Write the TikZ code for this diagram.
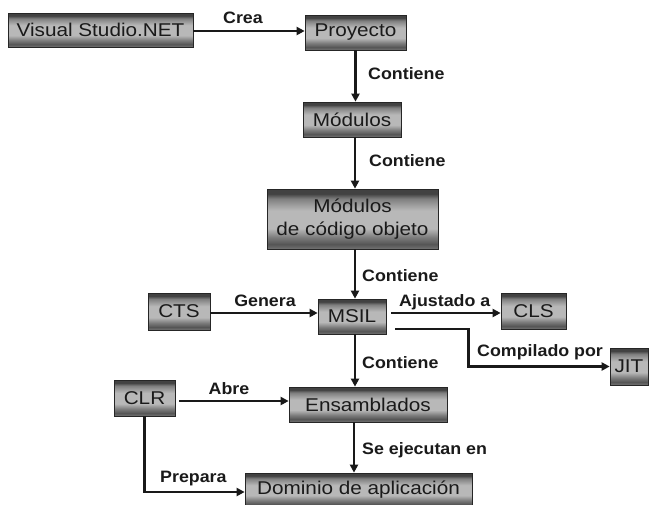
\documentclass[tikz,border=0pt]{standalone}
\usepackage{fontspec}
\setmainfont{Liberation Sans}
\newfontfamily\boxfont[FakeStretch=1.12]{Liberation Sans}
\newfontfamily\lblfont[FakeStretch=1.08]{Liberation Sans}
\usetikzlibrary{arrows.meta}
\definecolor{bA}{HTML}{424242}
\definecolor{bB}{HTML}{7E7E7E}
\definecolor{bC}{HTML}{9C9C9C}
\definecolor{bD}{HTML}{B8B8B8}
\definecolor{bE}{HTML}{555555}
\definecolor{bF}{HTML}{737373}
\definecolor{txt}{HTML}{1A1A1A}
\pgfdeclareverticalshading{metalbar}{100bp}{color(0bp)=(bF); color(25bp)=(bF); color(29bp)=(bE); color(35bp)=(bB); color(42bp)=(bD); color(57bp)=(bD); color(62bp)=(bC); color(67bp)=(bB); color(71bp)=(bA); color(75bp)=(bA); color(100bp)=(bA)}
\tikzset{
  box/.style={draw=black!85, line width=0.7pt, shading=metalbar, inner sep=0pt, align=center,
    text=txt, font=\boxfont\fontsize{18.5}{23}\selectfont},
  lbl/.style={inner sep=0pt, anchor=base, text=txt, font=\lblfont\bfseries\fontsize{16.5}{19}\selectfont},
  lbll/.style={lbl, anchor=base west},
  conn/.style={line width=2.3pt, draw=black!90, -{Triangle[length=8pt,width=8pt]}}
}
\begin{document}
\begin{tikzpicture}[x=1pt,y=-1pt]
\useasboundingbox[fill=white] (0,0) rectangle (652,504);
\node[box, minimum width=185, minimum height=34] (vs) at (100.5,30) {Visual Studio.NET};
\node[box, minimum width=101, minimum height=35] (proy) at (355.5,32.5) {Proyecto};
\node[box, minimum width=98, minimum height=35] (mod) at (352,119.5) {Módulos};
\node[box, minimum width=171, minimum height=60] (mco) at (352.5,219) {Módulos\\de código objeto};
\node[box, minimum width=62, minimum height=37] (cts) at (179,311.5) {CTS};
\node[box, minimum width=68, minimum height=35] (msil) at (352,316.5) {MSIL};
\node[box, minimum width=65, minimum height=36] (cls) at (533.5,311) {CLS};
\node[box, minimum width=38, minimum height=37] (jit) at (629,366.5) {JIT};
\node[box, minimum width=61, minimum height=36] (clr) at (144.5,398) {CLR};
\node[box, minimum width=158, minimum height=35] (ens) at (368,404.5) {Ensamblados};
\node[box, minimum width=227, minimum height=34] (dom) at (358.5,490) {Dominio de aplicación};

\draw[conn] ([yshift=-1pt]vs.east) -- ([yshift=-1pt]vs.east -| proy.west);
\draw[conn] (proy.south) -- (proy.south |- mod.north);
\draw[conn] ([xshift=3pt]mod.south) -- ([xshift=3pt]mod.south |- mco.north);
\draw[conn] ([xshift=2.5pt]mco.south) -- ([xshift=2.5pt]mco.south |- msil.north);
\draw[conn] ([yshift=-1.5pt]cts.east) -- ([yshift=-1.5pt]cts.east -| msil.west);
\draw[conn, shorten <=5pt] ([yshift=3.5pt]msil.east) -- ([yshift=3.5pt]msil.east -| cls.west);
\coordinate (bend) at ([xshift=82pt,yshift=-12.5pt]msil.east);
\draw[conn, shorten <=9pt] ([yshift=-12.5pt]msil.east) -- (bend) |- (jit.west);
\draw[conn] ([xshift=3pt]msil.south) -- ([xshift=3pt]msil.south |- ens.north);
\draw[conn, shorten <=4pt] ([yshift=-3pt]clr.east) -- ([yshift=-3pt]clr.east -| ens.west);
\draw[conn] ([xshift=-14pt]ens.south) -- ([xshift=-14pt]ens.south |- dom.north);
\draw[conn] (clr.south) -- ([yshift=-2pt]clr.south |- dom.west) -- ([yshift=-2pt]dom.west);

\node[lbl] (l1) at (243,23) {Crea};
\node[lbll] (l2) at (368,79) {Contiene};
\node[lbll] (l3) at (369,166) {Contiene};
\node[lbll] (l4) at (362,281) {Contiene};
\node[lbl] (l5) at (265,306) {Genera};
\node[lbll] (l6) at (399,306) {Ajustado a};
\node[lbll] (l7) at (477,356) {Compilado por};
\node[lbll] (l8) at (362,368) {Contiene};
\node[lbl] (l9) at (229,394) {Abre};
\node[lbll] (l10) at (362,454) {Se ejecutan en};
\node[lbll] (l11) at (160,482) {Prepara};
\end{tikzpicture}
\end{document}
